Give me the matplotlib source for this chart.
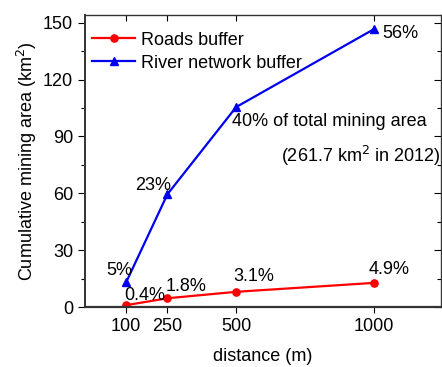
import numpy as np
import matplotlib.pyplot as plt
from matplotlib.ticker import MultipleLocator

plt.rcParams['font.family'] = ['Liberation Sans', 'DejaVu Sans']

distance = [100, 250, 500, 1000]
roads_area = [1.05, 4.7, 8.1, 12.8]
river_area = [13.1, 59.5, 105.5, 146.5]
roads_pct = ['0.4%', '1.8%', '3.1%', '4.9%']
river_pct = ['5%', '23%', '40%', '56%']

fig = plt.figure(figsize=(4.42, 3.67), dpi=100)
ax = fig.add_axes([0.192, 0.163, 0.806, 0.796])

ax.plot(distance, roads_area, color='red', marker='o', markersize=5.2,
        linewidth=1.6, label='Roads buffer')
ax.plot(distance, river_area, color='#0000ee', marker='^', markersize=5.8,
        linewidth=1.6, label='River network buffer')

# percentage labels next to each point (offsets in points)
fs = 13
road_offsets = [(13.5, 7), (13.5, 8.6), (13, 10.8), (10.8, 9.4)]
for x, y, t, off in zip(distance, roads_area, roads_pct, road_offsets):
    ax.annotate(t, (x, y), xytext=off, textcoords='offset points',
                ha='center', va='center', fontsize=fs)

river_offsets = [(-5, 8.6), (-10, 6.5)]
for x, y, t, off in zip(distance[:2], river_area[:2], river_pct[:2], river_offsets):
    ax.annotate(t, (x, y), xytext=off, textcoords='offset points',
                ha='center', va='center', fontsize=fs)
ax.annotate(river_pct[3], (distance[3], river_area[3]), xytext=(6, -3),
            textcoords='offset points', ha='left', va='center', fontsize=fs)

ax.text(485, 97.7, river_pct[2] + ' of total mining area', ha='left',
        va='center', fontsize=fs)
ax.text(1242, 79.5, '(261.7 km$^2$ in 2012)', ha='right', va='center',
        fontsize=fs)

ax.set_xlim(-50, 1245)
ax.set_ylim(0, 154)
ax.set_xticks(distance)
ax.yaxis.set_major_locator(MultipleLocator(30))
ax.yaxis.set_minor_locator(MultipleLocator(15))

ax.tick_params(axis='both', labelsize=13)
ax.tick_params(axis='x', direction='out', length=4, width=0.8, pad=4)
ax.tick_params(axis='y', which='major', direction='out', length=5, width=0.8)
ax.tick_params(axis='y', which='minor', direction='out', length=3, width=0.8)

# mirrored inward ticks on top and right
axt = ax.secondary_xaxis('top')
axt.set_xticks(distance)
axt.tick_params(direction='in', length=4, width=0.8, labeltop=False)
axr = ax.secondary_yaxis('right')
axr.yaxis.set_major_locator(MultipleLocator(30))
axr.yaxis.set_minor_locator(MultipleLocator(15))
axr.tick_params(which='major', direction='in', length=5, width=0.8, labelright=False)
axr.tick_params(which='minor', direction='in', length=3, width=0.8)

for s in ax.spines.values():
    s.set_linewidth(0.9)
    s.set_color('#333333')
ax.spines['bottom'].set_linewidth(1.6)
ax.spines['left'].set_linewidth(1.4)

ax.set_xlabel('distance (m)', fontsize=13, labelpad=9)
ax.set_ylabel('Cumulative mining area (km$^2$)', fontsize=13, labelpad=3)

ax.legend(loc='upper left', bbox_to_anchor=(0, 0.968), frameon=False,
          fontsize=13, handlelength=2.4, borderaxespad=0, labelspacing=0.33,
          handletextpad=0.3)

fig.savefig('out.png', dpi=100)
